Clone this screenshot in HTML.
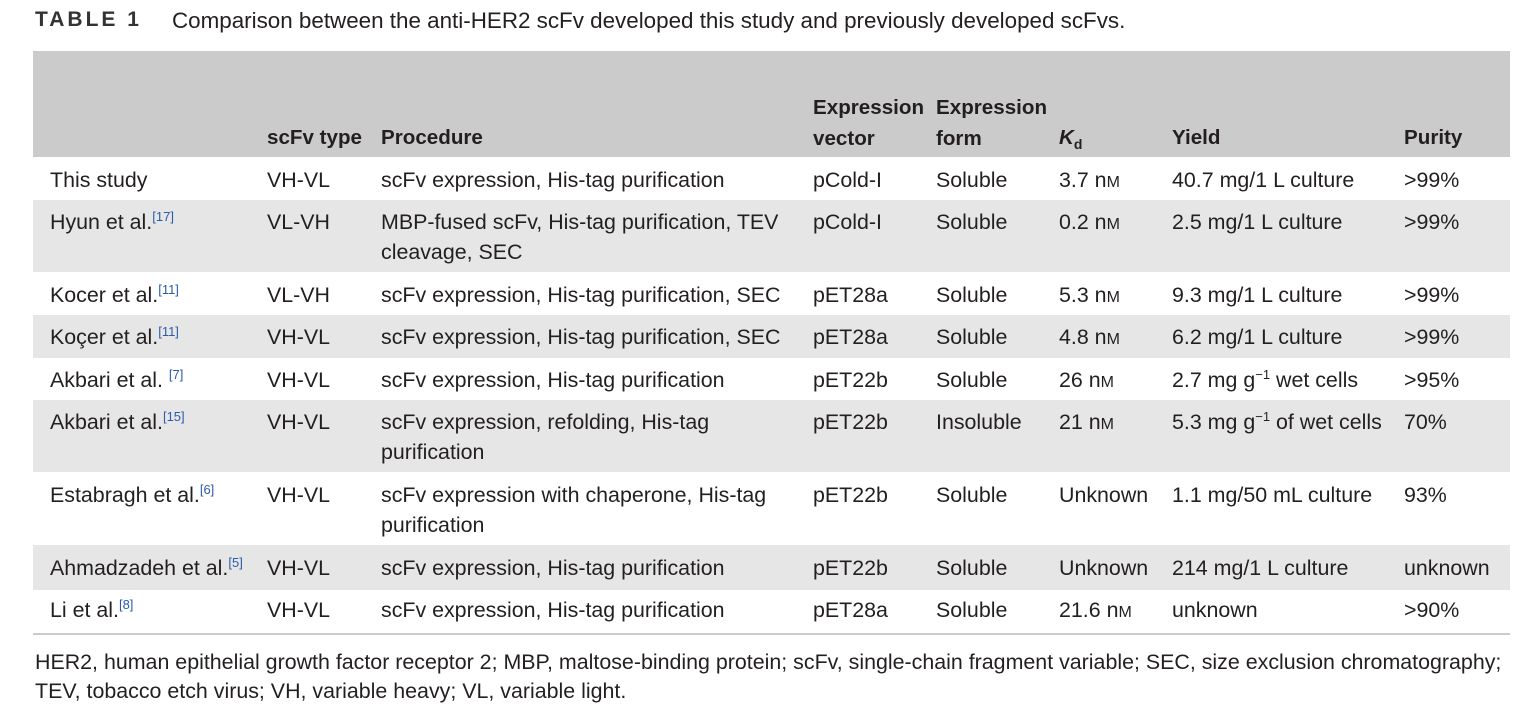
<!DOCTYPE html>
<html><head><meta charset="utf-8"><style>
body{margin:0;width:1527px;height:702px;background:#fff;font-family:"Liberation Sans",sans-serif;color:#231f20;position:relative;overflow:hidden}
.a{position:absolute;white-space:nowrap}
.c{position:absolute;font-size:21.4px;line-height:30px;white-space:nowrap}
.h{font-weight:bold;font-size:20.6px}
.bg{position:absolute;left:33px;width:1477px}
sup{font-size:13px;color:#2a5caa;vertical-align:8px;line-height:0}
.sm{font-size:16px}
</style></head><body>
<div class="a" style="left:35px;top:8px;font-size:21px;font-weight:bold;letter-spacing:3px;color:#333">TABLE 1</div>
<div class="a" style="left:172px;top:8px;font-size:22.4px">Comparison between the anti-HER2 scFv developed this study and previously developed scFvs.</div>
<div class="bg" style="top:51px;height:106px;background:#cbcbcb"></div>
<div class="bg" style="top:200px;height:72px;background:#e6e6e6"></div>
<div class="bg" style="top:315px;height:43px;background:#e6e6e6"></div>
<div class="bg" style="top:400px;height:72px;background:#e6e6e6"></div>
<div class="bg" style="top:545px;height:45px;background:#e6e6e6"></div>
<div class="bg" style="top:633px;height:2px;background:#cbcbcb"></div>

<div class="c h" style="left:267px;top:123px">scFv type</div>
<div class="c h" style="left:381px;top:123px">Procedure</div>
<div class="c h" style="left:813px;top:92px;line-height:31px">Expression<br>vector</div>
<div class="c h" style="left:936px;top:92px;line-height:31px">Expression<br>form</div>
<div class="c h" style="left:1059px;top:123px"><i>K</i><sub style="font-size:14px">d</sub></div>
<div class="c h" style="left:1172px;top:123px">Yield</div>
<div class="c h" style="left:1404px;top:123px">Purity</div>

<div id="rows"></div>

<div class="a" style="left:35px;top:648px;font-size:21.4px;line-height:29px">HER2, human epithelial growth factor receptor 2; MBP, maltose-binding protein; scFv, single-chain fragment variable; SEC, size exclusion chromatography;<br>TEV, tobacco etch virus; VH, variable heavy; VL, variable light.</div>

<script>
const rowTops=[165,207,280,322,365,407,480,553,595];
const rows=[
['This study','VH-VL','scFv expression, His-tag purification','pCold-I','Soluble','3.7 n<span class="sm">M</span>','40.7 mg/1 L culture','&gt;99%'],
['Hyun et al.<sup>[17]</sup>','VL-VH','MBP-fused scFv, His-tag purification, TEV<br>cleavage, SEC','pCold-I','Soluble','0.2 n<span class="sm">M</span>','2.5 mg/1 L culture','&gt;99%'],
['Kocer et al.<sup>[11]</sup>','VL-VH','scFv expression, His-tag purification, SEC','pET28a','Soluble','5.3 n<span class="sm">M</span>','9.3 mg/1 L culture','&gt;99%'],
['Koçer et al.<sup>[11]</sup>','VH-VL','scFv expression, His-tag purification, SEC','pET28a','Soluble','4.8 n<span class="sm">M</span>','6.2 mg/1 L culture','&gt;99%'],
['Akbari et al. <sup>[7]</sup>','VH-VL','scFv expression, His-tag purification','pET22b','Soluble','26 n<span class="sm">M</span>','2.7 mg g<sup style="color:#231f20">−1</sup> wet cells','&gt;95%'],
['Akbari et al.<sup>[15]</sup>','VH-VL','scFv expression, refolding, His-tag<br>purification','pET22b','Insoluble','21 n<span class="sm">M</span>','5.3 mg g<sup style="color:#231f20">−1</sup> of wet cells','70%'],
['Estabragh et al.<sup>[6]</sup>','VH-VL','scFv expression with chaperone, His-tag<br>purification','pET22b','Soluble','Unknown','1.1 mg/50 mL culture','93%'],
['Ahmadzadeh et al.<sup>[5]</sup>','VH-VL','scFv expression, His-tag purification','pET22b','Soluble','Unknown','214 mg/1 L culture','unknown'],
['Li et al.<sup>[8]</sup>','VH-VL','scFv expression, His-tag purification','pET28a','Soluble','21.6 n<span class="sm">M</span>','unknown','&gt;90%']
];
const colX=[50,267,381,813,936,1059,1172,1404];
const colNames=['study','scfv-type','procedure','vector','form','kd','yield','purity'];
const host=document.getElementById('rows');
rows.forEach((r,i)=>{
  r.forEach((t,j)=>{
    const d=document.createElement('div');
    d.className='c';
    d.style.left=colX[j]+'px';
    d.style.top=rowTops[i]+'px';
    d.innerHTML=t;
    
    
    host.appendChild(d);
  });
});
</script>
</body></html>
